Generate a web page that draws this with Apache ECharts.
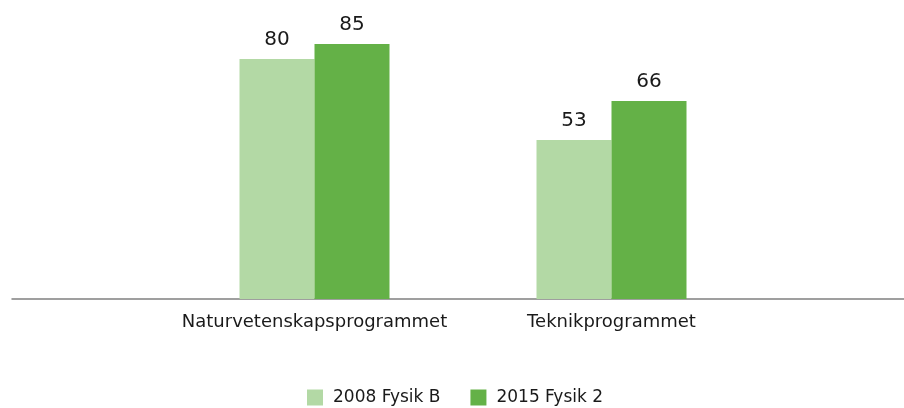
<!DOCTYPE html>
<html>
<head>
<meta charset="utf-8">
<script src="https://cdn.jsdelivr.net/npm/echarts@6/dist/echarts.min.js"></script>
<style>
    html, body { margin: 0; padding: 0; background: #fff; }
    #chart { width: 904px; height: 408px; }
</style>
</head>
<body>
<div id="chart"></div>
<script>
const categories = ['Naturvetenskapsprogrammet', 'Teknikprogrammet'];
const seriesNames = ['2008 Fysik B', '2015 Fysik 2'];
const values2008 = [80, 53];
const values2015 = [85, 66];

const colors = ['#b3d9a5', '#64b147'];
const font = 'DejaVu Sans, sans-serif';

const myChart = echarts.init(document.getElementById('chart'));

const barLabel = {
    show: true,
    position: 'top',
    distance: 9,
    fontFamily: font,
    fontSize: 20,
    color: '#1a1a1a',
};

myChart.setOption({
    animation: false,
    color: colors,
    legend: {
        data: seriesNames,
        left: 307,
        top: 389,
        padding: 0,
        itemWidth: 16,
        itemHeight: 16,
        itemGap: 30,
        icon: 'rect',
        textStyle: {
            fontFamily: font,
            fontSize: 17,
            color: '#1a1a1a',
            padding: [0, 0, 0, 5],
        },
    },
    grid: [
        // full-width grid that only carries the baseline
        { left: 12, right: 0, top: 29, bottom: 109 },
        { left: 166, width: 594, top: 29, bottom: 109 },
    ],
    xAxis: [
        {
            gridIndex: 0,
            type: 'category',
            data: [''],
            axisLine: { lineStyle: { color: '#808080', width: 1.5 } },
            axisTick: { show: false },
            axisLabel: { show: false },
        },
        {
            gridIndex: 1,
            type: 'category',
            data: categories,
            axisLine: { show: false },
            axisTick: { show: false },
            axisLabel: {
                interval: 0,
                fontFamily: font,
                fontSize: 18,
                color: '#1a1a1a',
                margin: 14,
            },
        },
    ],
    yAxis: [
        { gridIndex: 0, type: 'value', min: 0, max: 90, show: false },
        { gridIndex: 1, type: 'value', min: 0, max: 90, show: false },
    ],
    series: [
        {
            name: seriesNames[0],
            type: 'bar',
            xAxisIndex: 1,
            yAxisIndex: 1,
            data: values2008,
            barWidth: 75,
            barGap: '0%',
            label: barLabel,
        },
        {
            name: seriesNames[1],
            type: 'bar',
            xAxisIndex: 1,
            yAxisIndex: 1,
            data: values2015,
            barWidth: 75,
            barGap: '0%',
            label: barLabel,
        },
    ],
});
</script>
</body>
</html>
